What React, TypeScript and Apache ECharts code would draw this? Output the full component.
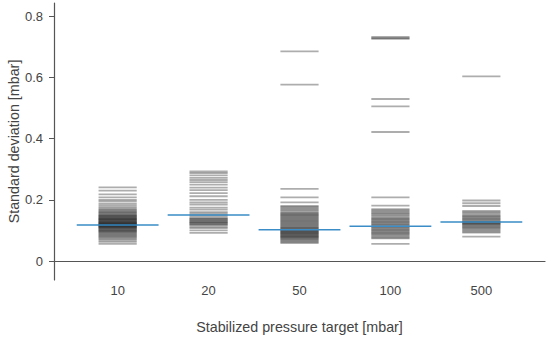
import React, { useEffect, useRef } from "react";
import * as echarts from "echarts";

const categories = ["10", "20", "50", "100", "500"];

const sd10 = [0.241, 0.230, 0.218, 0.208, 0.200, 0.195, 0.188, 0.182, 0.176, 0.171, 0.167, 0.163, 0.160, 0.158, 0.155, 0.152, 0.150, 0.148, 0.146, 0.144, 0.142, 0.140, 0.138, 0.137, 0.135, 0.133, 0.132, 0.130, 0.128, 0.127, 0.125, 0.124, 0.122, 0.121, 0.120, 0.119, 0.118, 0.117, 0.116, 0.115, 0.113, 0.112, 0.110, 0.109, 0.107, 0.105, 0.103, 0.101, 0.099, 0.097, 0.095, 0.092, 0.089, 0.086, 0.083, 0.080, 0.077, 0.073, 0.068, 0.063, 0.056];
const sd20 = [0.293, 0.288, 0.280, 0.272, 0.265, 0.258, 0.250, 0.240, 0.232, 0.222, 0.212, 0.200, 0.192, 0.185, 0.175, 0.168, 0.160, 0.155, 0.150, 0.145, 0.140, 0.138, 0.135, 0.132, 0.130, 0.127, 0.125, 0.123, 0.120, 0.118, 0.113, 0.108, 0.100, 0.092];
const sd50 = [0.686, 0.577, 0.236, 0.208, 0.192, 0.180, 0.176, 0.172, 0.168, 0.165, 0.160, 0.157, 0.154, 0.151, 0.149, 0.146, 0.143, 0.140, 0.137, 0.134, 0.131, 0.128, 0.125, 0.122, 0.119, 0.116, 0.113, 0.110, 0.108, 0.105, 0.103, 0.101, 0.099, 0.097, 0.095, 0.093, 0.091, 0.089, 0.087, 0.085, 0.083, 0.081, 0.079, 0.077, 0.075, 0.072, 0.069, 0.066, 0.063, 0.059];
const sd100 = [0.733, 0.729, 0.727, 0.530, 0.506, 0.422, 0.208, 0.181, 0.170, 0.166, 0.162, 0.158, 0.154, 0.150, 0.146, 0.142, 0.139, 0.136, 0.133, 0.130, 0.127, 0.124, 0.121, 0.118, 0.115, 0.112, 0.109, 0.106, 0.103, 0.100, 0.097, 0.094, 0.091, 0.088, 0.085, 0.081, 0.077, 0.074, 0.056];
const sd500 = [0.604, 0.198, 0.189, 0.180, 0.164, 0.160, 0.156, 0.152, 0.148, 0.145, 0.142, 0.139, 0.136, 0.133, 0.130, 0.128, 0.126, 0.124, 0.122, 0.120, 0.117, 0.114, 0.111, 0.108, 0.104, 0.100, 0.096, 0.093, 0.080];
const medians = [0.118, 0.151, 0.102, 0.114, 0.128];
const yTicks = [0, 0.2, 0.4, 0.6, 0.8];

const groups = [sd10, sd20, sd50, sd100, sd500];

export default function App() {
  const ref = useRef<HTMLDivElement>(null);
  useEffect(() => {
    document.body.style.margin = "0";
    if (!ref.current) return;
    const chart = echarts.init(ref.current, null, { renderer: "svg" });
    const pts: number[][] = [];
    groups.forEach((g, i) => g.forEach((v) => pts.push([i, v])));
    const medPts = medians.map((m, i) => [i, m]);
    const font = "Liberation Sans, Arial, sans-serif";
    const makeRender = (half: number, stroke: string, lw: number) => (params: any, api: any) => {
      const i = api.value(0);
      const v = api.value(1);
      const p1 = api.coord([i - half, v]);
      const p2 = api.coord([i + half, v]);
      return {
        type: "line",
        shape: { x1: p1[0], y1: p1[1], x2: p2[0], y2: p2[1] },
        style: { stroke, lineWidth: lw },
      };
    };
    chart.setOption({
      animation: false,
      grid: { left: 54, right: 5, top: 3, bottom: 62, containLabel: false, outerBoundsMode: "none" },
      xAxis: {
        type: "value",
        min: -0.7,
        max: 4.7,
        name: "Stabilized pressure target [mbar]",
        nameLocation: "middle",
        nameGap: 40,
        nameMoveOverlap: false,
        nameTextStyle: { fontSize: 14.3, color: "#444", fontFamily: font },
        axisLine: { show: true, onZero: true, lineStyle: { color: "#555", width: 1.2 } },
        axisTick: { show: false },
        splitLine: { show: false },
        axisLabel: {
          customValues: [0, 1, 2, 3, 4],
          formatter: (v: number) => categories[Math.round(v)] ?? "",
          margin: 4,
          fontSize: 13,
          color: "#444",
          fontFamily: font,
        },
      },
      yAxis: {
        type: "value",
        min: -0.062,
        max: 0.844,
        name: "Standard deviation [mbar]",
        nameLocation: "middle",
        nameGap: 33,
        nameMoveOverlap: false,
        nameTextStyle: { fontSize: 14.3, color: "#444", fontFamily: font },
        axisLine: { show: true, onZero: false, lineStyle: { color: "#555", width: 1.2 } },
        axisTick: { show: true, length: 5, customValues: yTicks, lineStyle: { color: "#555" } },
        splitLine: { show: false },
        axisLabel: {
          customValues: yTicks,
          formatter: (v: number) => (v === 0 ? "0" : v.toFixed(1)),
          margin: 11,
          fontSize: 13,
          color: "#444",
          fontFamily: font,
        },
      },
      series: [
        {
          type: "custom",
          data: pts,
          renderItem: makeRender(0.21, "rgba(0,0,0,0.32)", 1.8),
        },
        {
          type: "custom",
          data: medPts,
          renderItem: makeRender(0.45, "#3a8dc7", 1.5),
          z: 5,
        },
      ],
    });
    return () => chart.dispose();
  }, []);
  return <div ref={ref} style={{ width: 550, height: 342 }} />;
}
